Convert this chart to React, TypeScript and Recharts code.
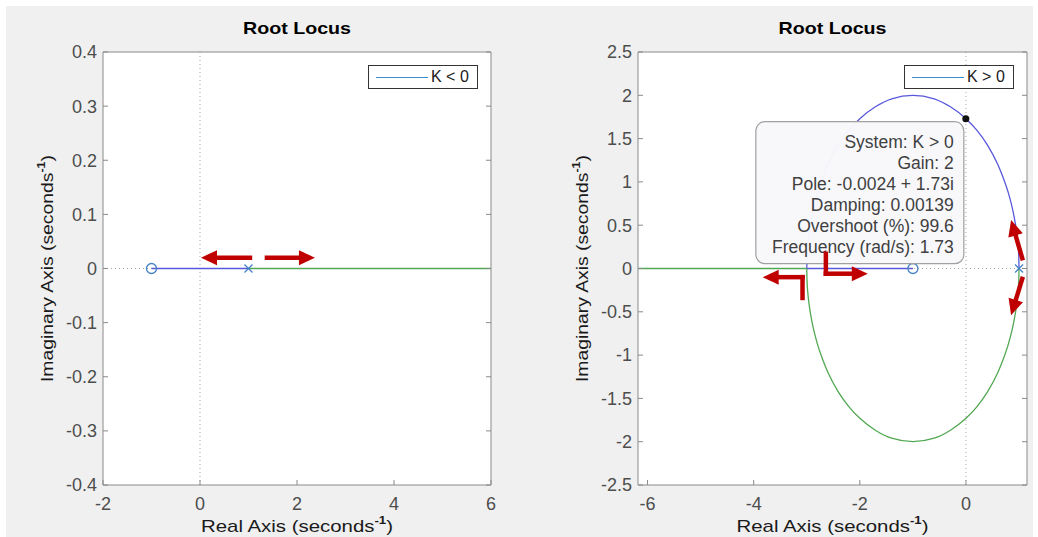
import { ComposedChart, Line, Scatter, XAxis, YAxis, ReferenceLine, ReferenceDot, Legend, Label, CartesianGrid } from 'recharts'

const FONT = '"Liberation Sans", Arial, Helvetica, sans-serif'
const BLUE = '#5858dc'
const GREEN = '#52a852'
const MARK = '#4682c4'
const RED = '#c00000'
const AXIS = '#8a8a8a'

// ticks / domains
const leftXTicks = [-2, 0, 2, 4, 6]
const leftYTicks = [-0.4, -0.3, -0.2, -0.1, 0, 0.1, 0.2, 0.3, 0.4]
const rightXTicks = [-6, -4, -2, 0]
const rightYTicks = [-2.5, -2, -1.5, -1, -0.5, 0, 0.5, 1, 1.5, 2, 2.5]
const leftXDomain = [-2, 6]
const leftYDomain = [-0.4, 0.4]
const rightXDomain = [-6.18, 1.15]
const rightYDomain = [-2.5, 2.5]

// K < 0 branches (real axis only)
const negBlue = [{ x: -1, y: 0 }, { x: 1, y: 0 }]
const negGreen = [{ x: 1, y: 0 }, { x: 6, y: 0 }]

// K > 0 branches (listed left to right)
const upperArc = [
  { x: -3, y: 0 }, { x: -2.995, y: 0.14 }, { x: -2.98, y: 0.28 }, { x: -2.95, y: 0.44 },
  { x: -2.9, y: 0.62 }, { x: -2.8, y: 0.87 }, { x: -2.7, y: 1.05 }, { x: -2.6, y: 1.2 },
  { x: -2.4, y: 1.43 }, { x: -2.2, y: 1.6 }, { x: -2, y: 1.73 }, { x: -1.7, y: 1.87 },
  { x: -1.4, y: 1.96 }, { x: -1, y: 2 }, { x: -0.6, y: 1.96 }, { x: -0.3, y: 1.87 },
  { x: 0, y: 1.73 }, { x: 0.2, y: 1.6 }, { x: 0.4, y: 1.43 }, { x: 0.6, y: 1.2 },
  { x: 0.7, y: 1.05 }, { x: 0.8, y: 0.87 }, { x: 0.9, y: 0.62 }, { x: 0.95, y: 0.44 },
  { x: 0.98, y: 0.28 }, { x: 0.995, y: 0.14 }, { x: 1, y: 0 },
]
const blueReal = [{ x: -3, y: 0 }, { x: -1, y: 0 }]
const lowerArc = [
  { x: -3, y: 0 }, { x: -2.995, y: -0.14 }, { x: -2.98, y: -0.28 }, { x: -2.95, y: -0.44 },
  { x: -2.9, y: -0.62 }, { x: -2.8, y: -0.87 }, { x: -2.7, y: -1.05 }, { x: -2.6, y: -1.2 },
  { x: -2.4, y: -1.43 }, { x: -2.2, y: -1.6 }, { x: -2, y: -1.73 }, { x: -1.7, y: -1.87 },
  { x: -1.4, y: -1.96 }, { x: -1, y: -2 }, { x: -0.6, y: -1.96 }, { x: -0.3, y: -1.87 },
  { x: 0, y: -1.73 }, { x: 0.2, y: -1.6 }, { x: 0.4, y: -1.43 }, { x: 0.6, y: -1.2 },
  { x: 0.7, y: -1.05 }, { x: 0.8, y: -0.87 }, { x: 0.9, y: -0.62 }, { x: 0.95, y: -0.44 },
  { x: 0.98, y: -0.28 }, { x: 0.995, y: -0.14 }, { x: 1, y: 0 },
]
const greenReal = [{ x: -6.18, y: 0 }, { x: -3, y: 0 }]

const poles = [{ x: 1, y: 0 }]
const zeros = [{ x: -1, y: 0 }]

// data tip
const tipPoint = { x: -0.0024, y: 1.73 }
const tipLines = [
  'System: K > 0',
  'Gain: 2',
  'Pole: -0.0024 + 1.73i',
  'Damping: 0.00139',
  'Overshoot (%): 99.6',
  'Frequency (rad/s): 1.73',
]

// red annotation arrows (data coords), head = arrowhead at the end
const leftArrows = [
  { x1: 1.03, y1: 0.02, x2: 0.02, y2: 0.02, head: true },
  { x1: 1.38, y1: 0.02, x2: 2.37, y2: 0.02, head: true },
]
const rightArrows = [
  { x1: -3.08, y1: -0.34, x2: -3.08, y2: -0.1, head: false },
  { x1: -3.08, y1: -0.1, x2: -3.83, y2: -0.1, head: true },
  { x1: -2.64, y1: 0.17, x2: -2.64, y2: -0.06, head: false },
  { x1: -2.64, y1: -0.06, x2: -1.85, y2: -0.06, head: true },
  { x1: 1.06, y1: 0.12, x2: 0.85, y2: 0.56, head: true },
  { x1: 1.06, y1: -0.12, x2: 0.85, y2: -0.54, head: true },
]

const tickStyle = { fontSize: 18, fill: '#4d4d4d', fontFamily: FONT }

const arrowShape = (head: boolean) => (p: any) => {
  const { x1, y1, x2, y2 } = p
  if (!head) {
    return <line x1={x1} y1={y1} x2={x2} y2={y2} stroke={RED} strokeWidth={4.5} strokeLinecap="square" />
  }
  const a = Math.atan2(y2 - y1, x2 - x1)
  const L = 16
  const W = 7.5
  const bx = x2 - L * Math.cos(a)
  const by = y2 - L * Math.sin(a)
  const px = -Math.sin(a)
  const py = Math.cos(a)
  return (
    <g>
      <line x1={x1} y1={y1} x2={bx} y2={by} stroke={RED} strokeWidth={4.5} strokeLinecap="square" />
      <polygon points={`${x2},${y2} ${bx + W * px},${by + W * py} ${bx - W * px},${by - W * py}`} fill={RED} />
    </g>
  )
}

const poleShape = (p: any) => (
  <g stroke={MARK} strokeWidth={1.3}>
    <line x1={p.cx - 4} y1={p.cy - 4} x2={p.cx + 4} y2={p.cy + 4} />
    <line x1={p.cx - 4} y1={p.cy + 4} x2={p.cx + 4} y2={p.cy - 4} />
  </g>
)
const zeroShape = (p: any) => <circle cx={p.cx} cy={p.cy} r={5} fill="none" stroke={MARK} strokeWidth={1.3} />

const tipShape = (p: any) => {
  const { cx, cy } = p
  return (
    <g>
      <rect x={cx - 210} y={cy + 3} width={208} height={142} rx={9} fill="#f8f8fb" fillOpacity={0.97} stroke="#a0a0a0" strokeWidth={1.2} />
      {tipLines.map((t, i) => (
        <text key={i} x={cx - 12} y={cy + 29 + i * 21} textAnchor="end" fontSize={17.5} fill="#404040" fontFamily={FONT}>
          {t}
        </text>
      ))}
      <circle cx={cx} cy={cy} r={3.5} fill="#111" />
    </g>
  )
}

const titleLabel = (props: any) => {
  const vb = props.viewBox
  return (
    <text x={vb.x + vb.width / 2} y={vb.y - 17} textAnchor="middle" fontSize={17} fontWeight="bold" fill="#000" fontFamily={FONT} textLength={108} lengthAdjust="spacingAndGlyphs">
      Root Locus
    </text>
  )
}

const xLabel = (props: any) => {
  const vb = props.viewBox
  return (
    <text x={vb.x + vb.width / 2} y={vb.y + 47} textAnchor="middle" fontSize={17} fill="#1a1a1a" fontFamily={FONT} textLength={192} lengthAdjust="spacingAndGlyphs">
      Real Axis (seconds<tspan dy={-8} fontSize={11} fontWeight="bold">-1</tspan><tspan dy={8}>)</tspan>
    </text>
  )
}

const yLabel = (props: any) => {
  const vb = props.viewBox
  const x = vb.x + vb.width - 50
  const y = vb.y + vb.height / 2
  return (
    <text x={x} y={y} transform={`rotate(-90, ${x}, ${y})`} textAnchor="middle" fontSize={17} fill="#1a1a1a" fontFamily={FONT} textLength={227} lengthAdjust="spacingAndGlyphs">
      Imaginary Axis (seconds<tspan dy={-8} fontSize={11} fontWeight="bold">-1</tspan><tspan dy={8}>)</tspan>
    </text>
  )
}

const legendBox = (text: string) => () => (
  <div style={{ display: 'flex', alignItems: 'center', width: 108, height: 22, border: '1px solid #333', background: '#fff', fontFamily: FONT, fontSize: 16, color: '#1a1a1a' }}>
    <div style={{ width: 52, height: 1, background: '#3d8fd1', marginLeft: 7, marginRight: 3 }} />
    <span>{text}</span>
  </div>
)

function Panel(props: {
  width: number
  marginRight: number
  yAxisWidth: number
  xDomain: number[]
  yDomain: number[]
  xTicks: number[]
  yTicks: number[]
  legendLeft: number
  legendText: string
  children: any
}) {
  const axisProps = {
    type: 'number' as const,
    allowDataOverflow: true,
    tickSize: -5,
    axisLine: { stroke: AXIS },
    tickLine: { stroke: AXIS },
    interval: 0 as const,
  }
  return (
    <ComposedChart width={props.width} height={537} margin={{ top: 51, right: props.marginRight, bottom: 0, left: 0 }}>
      <CartesianGrid horizontal={false} vertical={false} fill="#ffffff" />
      <XAxis {...axisProps} dataKey="x" domain={props.xDomain} ticks={props.xTicks} height={52} tickMargin={17} tick={tickStyle}>
        <Label content={xLabel} />
      </XAxis>
      <XAxis {...axisProps} xAxisId="top" orientation="top" domain={props.xDomain} ticks={props.xTicks} height={1} tickFormatter={() => ''}>
        <Label content={titleLabel} />
      </XAxis>
      <YAxis {...axisProps} dataKey="y" domain={props.yDomain} ticks={props.yTicks} width={props.yAxisWidth} tickMargin={11} tick={tickStyle}>
        <Label content={yLabel} />
      </YAxis>
      <YAxis {...axisProps} yAxisId="r" orientation="right" domain={props.yDomain} ticks={props.yTicks} width={1} tickFormatter={() => ''} />
      <Line data={[]} dataKey="y" xAxisId="top" yAxisId="r" dot={false} legendType="none" isAnimationActive={false} />
      <ReferenceLine x={0} stroke="#a8a8a8" strokeDasharray="1 3" zIndex={300} />
      <ReferenceLine y={0} stroke="#a8a8a8" strokeDasharray="1 3" zIndex={300} />
      {props.children}
      <Legend
        layout="horizontal"
        verticalAlign="middle"
        align="center"
        content={legendBox(props.legendText)}
        wrapperStyle={{ top: 65, left: props.legendLeft, width: 110, height: 24 }}
      />
    </ComposedChart>
  )
}

export default function App() {
  return (
    <div style={{ position: 'absolute', left: 0, top: 0, width: 1038, height: 537, background: '#fff', overflow: 'hidden' }}>
      <div style={{ position: 'absolute', left: 6, top: 6, width: 1027, height: 531, background: '#f0f0f0' }} />
      <div style={{ position: 'absolute', left: 0, top: 0 }}>
        <Panel width={520} marginRight={28} yAxisWidth={103} xDomain={leftXDomain} yDomain={leftYDomain} xTicks={leftXTicks} yTicks={leftYTicks} legendLeft={368} legendText="K < 0">
          <Line data={negBlue} dataKey="y" type="linear" stroke={BLUE} strokeWidth={1.3} dot={false} isAnimationActive={false} />
          <Line data={negGreen} dataKey="y" type="linear" stroke={GREEN} strokeWidth={1.3} dot={false} isAnimationActive={false} />
          <Scatter data={zeros} dataKey="y" shape={zeroShape} isAnimationActive={false} />
          <Scatter data={poles} dataKey="y" shape={poleShape} isAnimationActive={false} />
          {leftArrows.map((a, i) => (
            <ReferenceLine key={i} segment={[{ x: a.x1, y: a.y1 }, { x: a.x2, y: a.y2 }]} shape={arrowShape(a.head)} zIndex={1200} />
          ))}
        </Panel>
      </div>
      <div style={{ position: 'absolute', left: 520, top: 0 }}>
        <Panel width={518} marginRight={10} yAxisWidth={118} xDomain={rightXDomain} yDomain={rightYDomain} xTicks={rightXTicks} yTicks={rightYTicks} legendLeft={384} legendText="K > 0">
          <Line data={upperArc} dataKey="y" type="monotoneX" stroke={BLUE} strokeWidth={1.3} dot={false} isAnimationActive={false} />
          <Line data={blueReal} dataKey="y" type="linear" stroke={BLUE} strokeWidth={1.3} dot={false} isAnimationActive={false} />
          <Line data={lowerArc} dataKey="y" type="monotoneX" stroke={GREEN} strokeWidth={1.3} dot={false} isAnimationActive={false} />
          <Line data={greenReal} dataKey="y" type="linear" stroke={GREEN} strokeWidth={1.3} dot={false} isAnimationActive={false} />
          <Scatter data={zeros} dataKey="y" shape={zeroShape} isAnimationActive={false} />
          <Scatter data={poles} dataKey="y" shape={poleShape} isAnimationActive={false} />
          <ReferenceDot x={tipPoint.x} y={tipPoint.y} r={4} shape={tipShape} zIndex={1100} />
          {rightArrows.map((a, i) => (
            <ReferenceLine key={i} segment={[{ x: a.x1, y: a.y1 }, { x: a.x2, y: a.y2 }]} shape={arrowShape(a.head)} zIndex={1200} />
          ))}
        </Panel>
      </div>
    </div>
  )
}
